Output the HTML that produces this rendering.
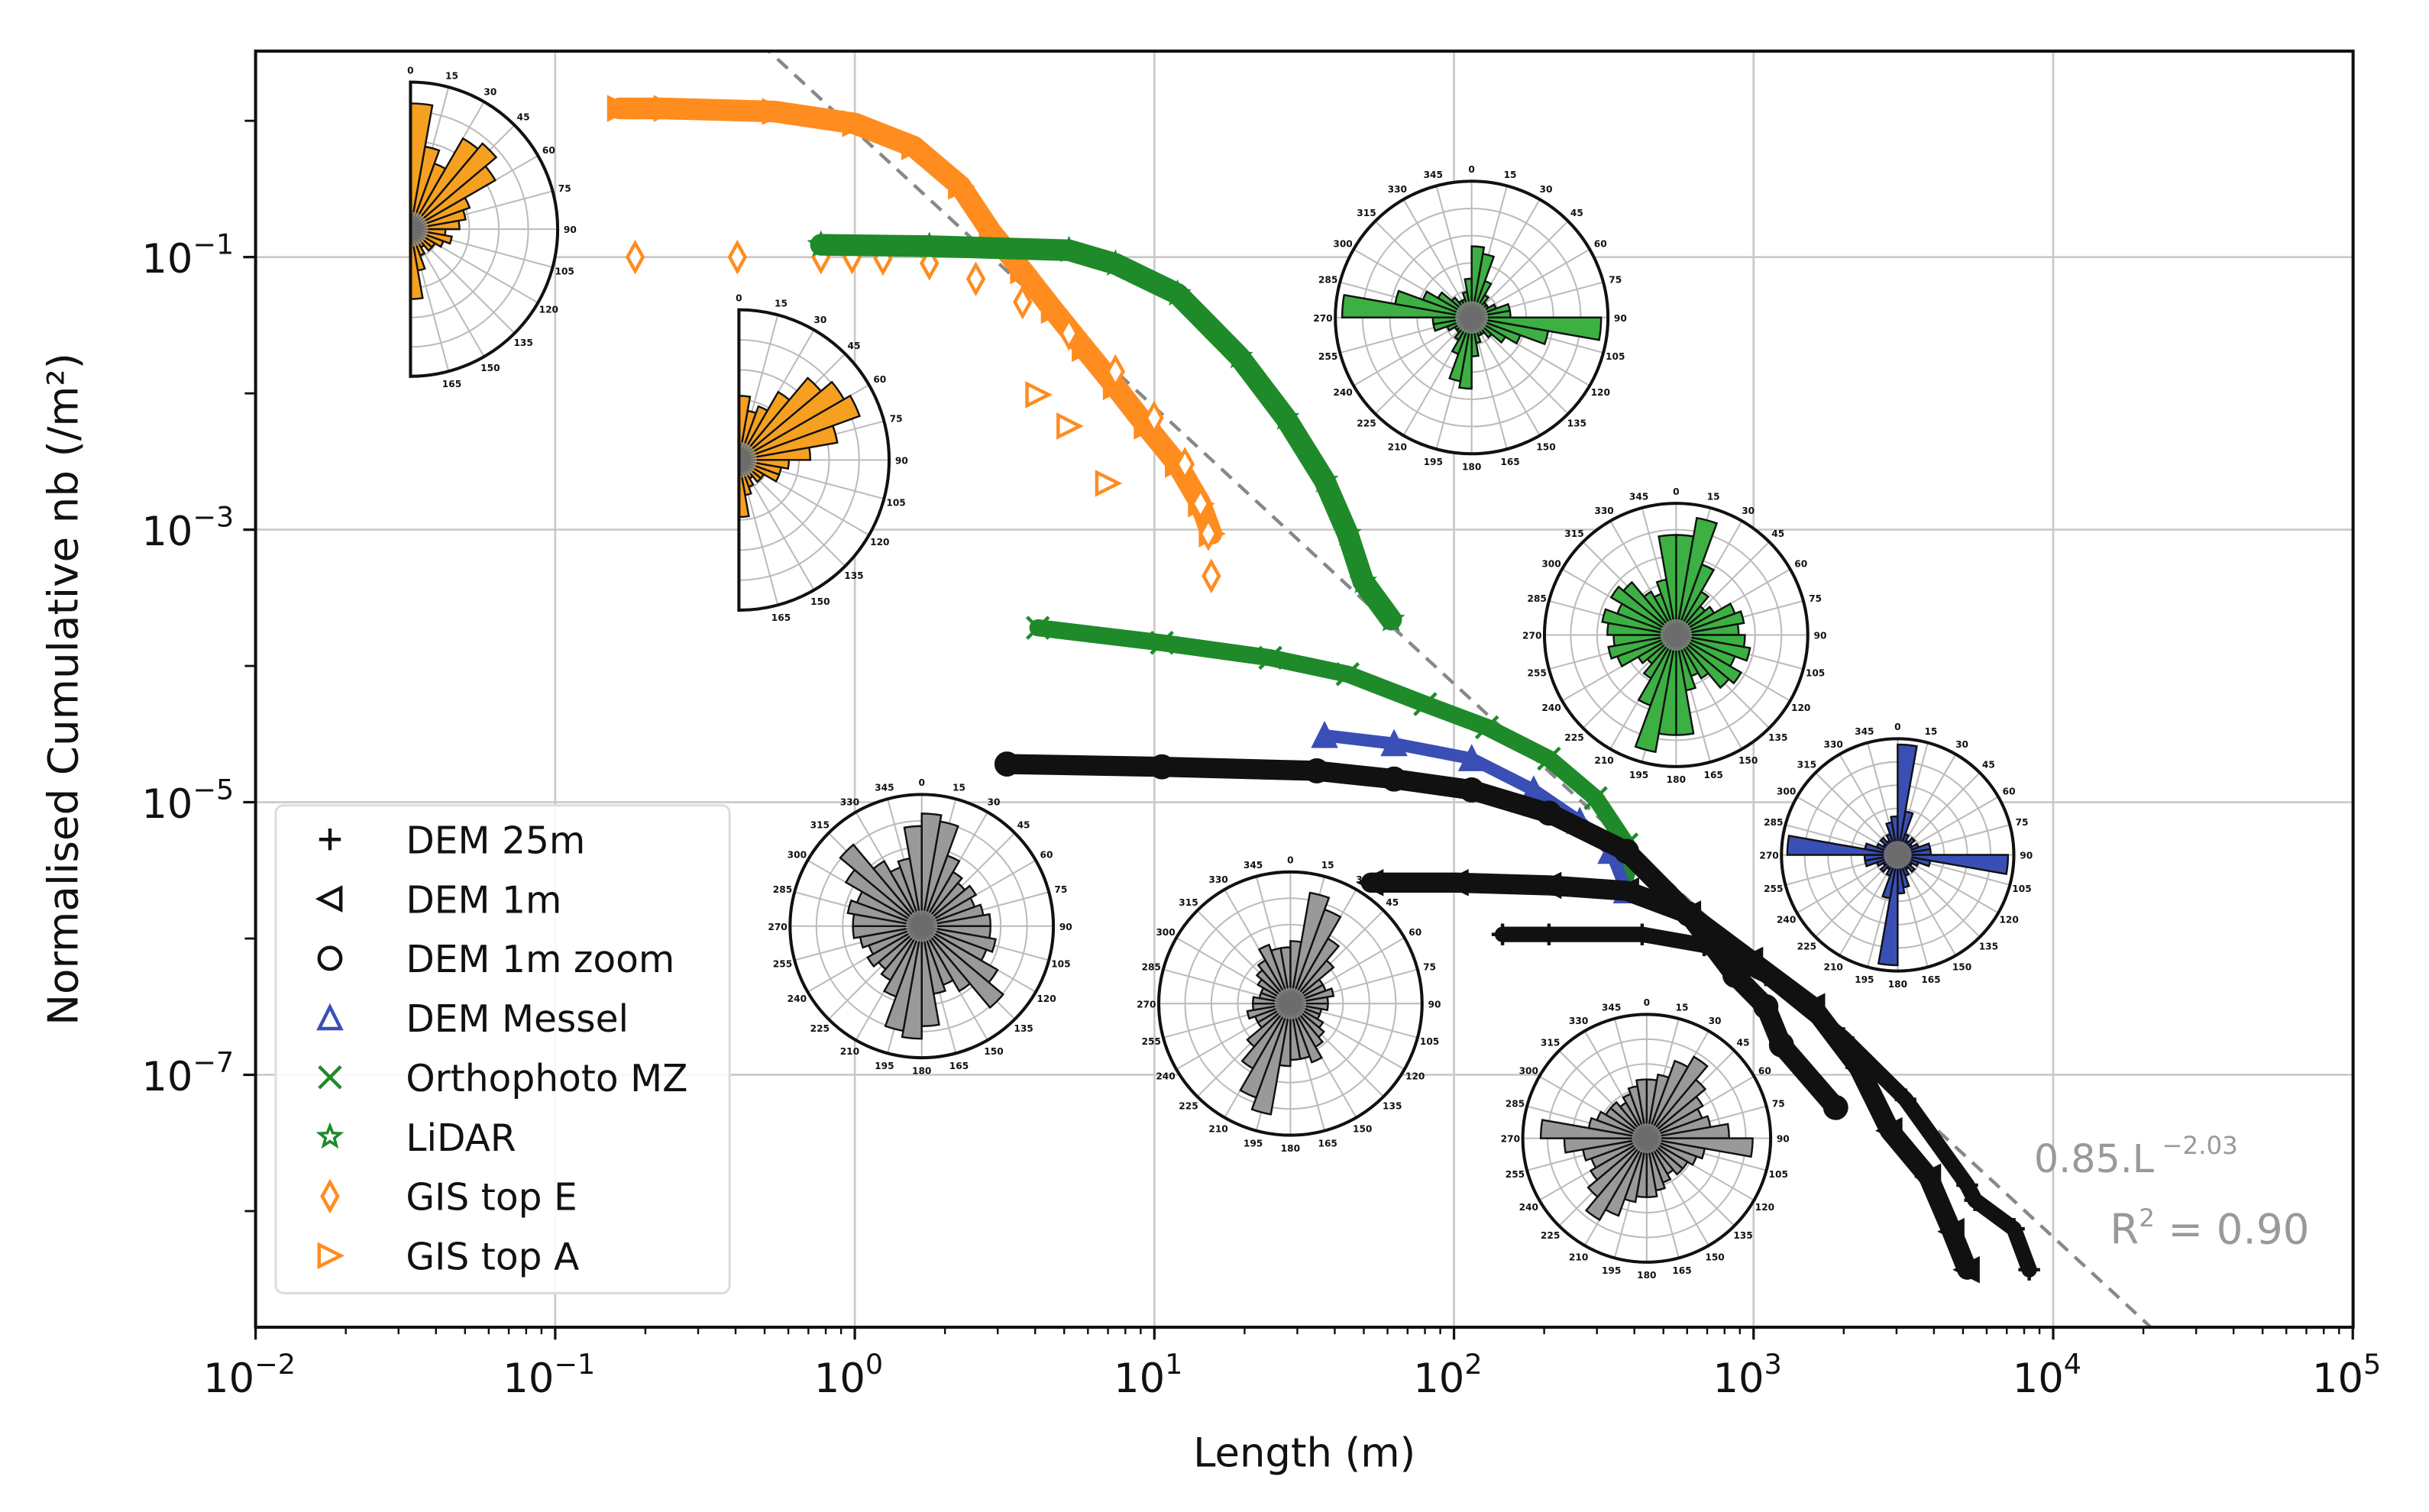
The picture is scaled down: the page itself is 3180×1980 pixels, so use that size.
<!DOCTYPE html>
<html><head><meta charset="utf-8"><style>
html,body{margin:0;padding:0;background:#fff}
svg{display:block}
text{font-family:"DejaVu Sans","Liberation Sans",sans-serif}
</style></head><body>
<svg id="chart" width="3180" height="1980" viewBox="0 0 1568 976.3" preserveAspectRatio="none" xmlns="http://www.w3.org/2000/svg">
<rect x="0" y="0" width="1568" height="977" fill="#fff"/>
<g id="grid"></g>
<g id="fit"></g>
<g id="series"></g>
<g id="roses"></g>
<g id="axes"></g>
<g id="legend"></g>
<text x="1313" y="757" font-size="25" fill="#999">0.85.L<tspan dy="-12" font-size="16"> −2.03</tspan></text>
<text x="1362" y="803" font-size="27" fill="#999">R<tspan dy="-11" font-size="16">2</tspan><tspan dy="11"> = 0.90</tspan></text>
<text x="842" y="947" font-size="26" text-anchor="middle" fill="#111">Length (m)</text>
<text transform="translate(50,445) rotate(-90)" font-size="27" text-anchor="middle" fill="#111">Normalised Cumulative nb (/m²)</text>
</svg>
<script>
// ---- data (log10 values) ----
const gisA_logL=[-0.785,-0.63,-0.268,0.0,0.197,0.353,0.456,0.56,0.663,0.766,0.87,0.973,1.077,1.154,1.19];
const gisA_logN=[0.091,0.09,0.068,-0.02,-0.19,-0.48,-0.82,-1.10,-1.39,-1.67,-1.95,-2.24,-2.52,-2.81,-3.03];
const gisAout_logL=[0.611,0.715,0.844];
const gisAout_logN=[-2.01,-2.24,-2.66];
const gisE_logL=[-0.733,-0.392,-0.113,-0.009,0.094,0.249,0.404,0.56,0.715,0.87,0.999,1.102,1.154,1.18,1.19];
const gisE_logN=[-1,-1,-1,-1,-1.01,-1.045,-1.16,-1.33,-1.56,-1.84,-2.18,-2.52,-2.81,-3.03,-3.34];
const lidar_logL=[-0.113,0.249,0.715,0.87,1.077,1.283,1.438,1.568,1.645,1.697,1.79];
const lidar_logN=[-0.91,-0.92,-0.95,-1.05,-1.27,-1.73,-2.18,-2.64,-3.03,-3.38,-3.66];
const ortho_logL=[0.611,1.025,1.387,1.645,1.904,2.11,2.317,2.473,2.576,2.576];
const ortho_logN=[-3.72,-3.83,-3.94,-4.06,-4.28,-4.45,-4.68,-4.97,-5.31,-5.53];
const messel_logL=[1.568,1.80,2.059,2.266,2.42,2.524,2.576];
const messel_logN=[-4.51,-4.57,-4.68,-4.91,-5.14,-5.36,-5.65];
const zoom_logL=[0.508,1.025,1.542,1.80,2.059,2.317,2.576,2.783,2.938,3.041,3.093,3.274];
const zoom_logN=[-4.72,-4.74,-4.77,-4.83,-4.91,-5.08,-5.36,-5.82,-6.27,-6.5,-6.78,-7.24];
const dem1_logL=[1.723,2.007,2.317,2.576,2.783,2.99,3.197,3.352,3.455,3.584,3.662,3.713];
const dem1_logN=[-5.59,-5.59,-5.61,-5.65,-5.82,-6.16,-6.5,-6.95,-7.41,-7.75,-8.15,-8.43];
const dem25_logL=[2.162,2.317,2.628,2.835,3.041,3.30,3.507,3.713,3.739,3.869,3.92];
const dem25_logN=[-5.97,-5.97,-5.97,-6.05,-6.27,-6.73,-7.18,-7.81,-7.92,-8.13,-8.43];
const fitCoef=0.85, fitExp=-2.03;
const xTickExps=[-2,-1,0,1,2,3,4,5];
const yTickExps=[-1,-3,-5,-7];
// rose petal lengths (0..1) for 10° bins 0-180, mirrored for full roses
const roseHalf1=[0.9,0.6,0.5,0.75,0.8,0.7,0.45,0.4,0.35,0.25,0.3,0.25,0.2,0.2,0.15,0.2,0.3,0.5];
const roseHalf2=[0.45,0.35,0.4,0.55,0.75,0.85,0.9,0.7,0.5,0.35,0.3,0.3,0.2,0.2,0.15,0.2,0.25,0.4];
const roseGreen1=[0.55,0.5,0.3,0.2,0.15,0.15,0.2,0.3,0.3,1.0,0.6,0.4,0.3,0.2,0.15,0.15,0.2,0.3];
const roseGreen2=[0.8,0.95,0.6,0.4,0.3,0.35,0.5,0.55,0.5,0.55,0.6,0.5,0.6,0.55,0.4,0.35,0.45,0.8];
const roseBlue=[1.0,0.4,0.2,0.15,0.2,0.15,0.2,0.3,0.3,1.0,0.3,0.2,0.15,0.2,0.15,0.2,0.3,0.35];
const roseGray1=[0.9,0.85,0.6,0.5,0.45,0.5,0.45,0.5,0.55,0.55,0.6,0.55,0.7,0.85,0.6,0.5,0.55,0.8];
const roseGray2=[0.5,0.9,0.8,0.6,0.45,0.3,0.3,0.35,0.3,0.3,0.25,0.25,0.3,0.35,0.4,0.5,0.45,0.45];
const roseGray3=[0.5,0.55,0.7,0.8,0.65,0.55,0.5,0.55,0.7,0.9,0.5,0.45,0.4,0.4,0.35,0.4,0.45,0.5];

const NS='http://www.w3.org/2000/svg';
const L=165,R=1519,T=33,B=857;
const xs=v=>L+(v+2)*193.4;
const ys=v=>166+(-1-v)*88;
function mk(tag,attrs,parent){const e=document.createElementNS(NS,tag);for(const k in attrs)e.setAttribute(k,attrs[k]);parent.appendChild(e);return e;}
const grid=document.getElementById('grid'),axes=document.getElementById('axes'),ser=document.getElementById('series'),roses=document.getElementById('roses'),leg=document.getElementById('legend'),fitG=document.getElementById('fit');

xTickExps.forEach(e=>{const x=xs(e);
  const g=mk('line',{x1:x,x2:x,y1:T,y2:B,stroke:'#c8c8c8','stroke-width':1.3},grid);
  
  
});
yTickExps.forEach(e=>{const y=ys(e);
  const g=mk('line',{x1:L,x2:R,y1:y,y2:y,stroke:'#c8c8c8','stroke-width':1.3},grid);
  
  
});

const defs=mk('defs',{},document.getElementById('chart'));
mk('rect',{x:L,y:T,width:R-L,height:B-T},mk('clipPath',{id:'plotclip'},defs));
{const x0=-0.6,x1=4.5;
 const fl=mk('line',{x1:xs(x0),y1:ys(Math.log10(fitCoef)+fitExp*x0),x2:xs(x1),y2:ys(Math.log10(fitCoef)+fitExp*x1),stroke:'#888','stroke-width':2.2,'stroke-dasharray':'9,6'},fitG);
 
 
 fitG.setAttribute('clip-path','url(#plotclip)');}

function marker(type,x,y,col,parent,fill){
  const s=7;let e;fill=fill||'#fff';
  if(type==='plus') e=mk('path',{d:`M${x-s} ${y}H${x+s}M${x} ${y-s}V${y+s}`,stroke:col,'stroke-width':2.2,fill:'none'},parent);
  else if(type==='x') e=mk('path',{d:`M${x-s} ${y-s}L${x+s} ${y+s}M${x-s} ${y+s}L${x+s} ${y-s}`,stroke:col,'stroke-width':2.2,fill:'none'},parent);
  else if(type==='tl') e=mk('path',{d:`M${x-s} ${y}L${x+s} ${y-s}L${x+s} ${y+s}Z`,stroke:col,'stroke-width':2.2,fill},parent);
  else if(type==='tr') e=mk('path',{d:`M${x+s} ${y}L${x-s} ${y-s}L${x-s} ${y+s}Z`,stroke:col,'stroke-width':2.2,fill},parent);
  else if(type==='tu') e=mk('path',{d:`M${x} ${y-s}L${x+s} ${y+s}L${x-s} ${y+s}Z`,stroke:col,'stroke-width':2.2,fill},parent);
  else if(type==='o') e=mk('circle',{cx:x,cy:y,r:s,stroke:col,'stroke-width':2.2,fill},parent);
  else if(type==='d') e=mk('path',{d:`M${x} ${y-s-2}L${x+s-2} ${y}L${x} ${y+s+2}L${x-s+2} ${y}Z`,stroke:col,'stroke-width':2.2,fill},parent);
  else if(type==='star'){let p='';for(let i=0;i<10;i++){const a=-Math.PI/2+i*Math.PI/5,r=i%2?3:7;p+=(i?'L':'M')+(x+r*Math.cos(a))+' '+(y+r*Math.sin(a));}
    e=mk('path',{d:p+'Z',stroke:col,'stroke-width':1.8,fill},parent);}
  return e;
}
function series(name,lx,ly,type,col,band){
  const g=mk('g',{},ser);
  
  
  if(band){const pts=lx.map((v,i)=>xs(v)+','+ys(ly[i])).join(' ');
    const pl=mk('polyline',{points:pts,fill:'none',stroke:col,'stroke-width':band,'stroke-linejoin':'round','stroke-linecap':'round'},g);
    
    }
  lx.forEach((v,i)=>{const m=marker(type,xs(v),ys(ly[i]),col,g,band?col:'#fff');
    
    });
}
const OR='#ff8c1f',GR='#1f8a2a',BL='#3a4fb5',BK='#111';
series('gis-top-a',gisA_logL,gisA_logN,'tr',OR,14);
series('gis-top-a-outliers',gisAout_logL,gisAout_logN,'tr',OR,0);
series('gis-top-e',gisE_logL,gisE_logN,'d',OR,0);
series('lidar',lidar_logL,lidar_logN,'star',GR,14);
series('orthophoto-mz',ortho_logL,ortho_logN,'x',GR,11);
series('dem-messel',messel_logL,messel_logN,'tu',BL,8);
series('dem-1m-zoom',zoom_logL,zoom_logN,'o',BK,13);
series('dem-1m',dem1_logL,dem1_logN,'tl',BK,13);
series('dem-25m',dem25_logL,dem25_logN,'plus',BK,10);

function rose(name,cx,cy,r,vals,col,half){
  const g=mk('g',{},roses);
  
  
  const P=(deg,rr)=>[cx+rr*Math.sin(deg*Math.PI/180),cy-rr*Math.cos(deg*Math.PI/180)];
  const span=half?180:360;
  const disc=(rr,attrs)=>half?mk('path',Object.assign({d:`M${cx} ${cy-rr}A${rr} ${rr} 0 0 1 ${cx} ${cy+rr}Z`},attrs),g):mk('circle',Object.assign({cx,cy,r:rr},attrs),g);
  disc(r,{fill:'#fff'});
  for(let k=1;k<=5;k++){const rr=r*k/5;
    if(half) mk('path',{d:`M${cx} ${cy-rr}A${rr} ${rr} 0 0 1 ${cx} ${cy+rr}`,fill:'none',stroke:'#bbb','stroke-width':1},g);
    else mk('circle',{cx,cy,r:rr,fill:'none',stroke:'#bbb','stroke-width':1},g);}
  for(let a=0;a<span;a+=15){const p=P(a,r);mk('line',{x1:cx,y1:cy,x2:p[0],y2:p[1],stroke:'#bbb','stroke-width':1},g);}
  const bins=half?vals:vals.concat(vals);
  bins.forEach((v,i)=>{const a0=i*10,a1=a0+10,rr=r*0.95*v;const p0=P(a0,rr),p1=P(a1,rr);
    const w=mk('path',{d:`M${cx} ${cy}L${p0[0]} ${p0[1]}A${rr} ${rr} 0 0 1 ${p1[0]} ${p1[1]}Z`,fill:col,stroke:'#111','stroke-width':1.2},g);
    
    });
  disc(r*0.12,{fill:'#aaa',opacity:0.6});
  disc(r,{fill:'none',stroke:'#111','stroke-width':2});
  for(let a=0;a<span;a+=15){const p=P(a,r+8);const t=mk('text',{x:p[0],y:p[1]+2.5,'font-size':6,'font-weight':'bold','text-anchor':'middle',fill:'#111'},g);t.textContent=a;}
}
rose('rose-gis-top-a',265,148,95,roseHalf1,'#f5a020',true);
rose('rose-gis-top-e',477,297,97,roseHalf2,'#f5a020',true);
rose('rose-lidar',950,205,88,roseGreen1,'#3cb043',false);
rose('rose-orthophoto',1082,410,85,roseGreen2,'#3cb043',false);
rose('rose-messel',1225,552,75,roseBlue,'#3a4fb5',false);
rose('rose-dem-zoom',595,598,85,roseGray1,'#999',false);
rose('rose-dem-1m',833,648,85,roseGray2,'#999',false);
rose('rose-dem-25m',1063,735,80,roseGray3,'#999',false);

mk('rect',{x:L,y:T,width:R-L,height:B-T,fill:'none',stroke:'#111','stroke-width':2},axes);
xTickExps.forEach(e=>{const x=xs(e);
  mk('line',{x1:x,x2:x,y1:B,y2:B+8,stroke:'#111','stroke-width':1.6},axes);
  const t=mk('text',{x:x-4,y:B+42,'font-size':26,'text-anchor':'middle',fill:'#111'},axes);
  
  
  t.innerHTML='10<tspan dy="-12" font-size="18">'+(e<0?'−'+(-e):e)+'</tspan>';
  if(e<5)for(let m=2;m<10;m++){const xm=xs(e+Math.log10(m));mk('line',{x1:xm,x2:xm,y1:B,y2:B+4.5,stroke:'#111','stroke-width':1.2},axes);}
});
for(let e=0;e>=-8;e--){const y=ys(e);mk('line',{x1:L-7,x2:L,y1:y,y2:y,stroke:'#111','stroke-width':1.4},axes);}
yTickExps.forEach(e=>{const y=ys(e);
  mk('line',{x1:L-8,x2:L,y1:y,y2:y,stroke:'#111','stroke-width':1.6},axes);
  const t=mk('text',{x:L-14,y:y+10,'font-size':26,'text-anchor':'end',fill:'#111'},axes);
  
  
  t.innerHTML='10<tspan dy="-12" font-size="18">−'+(-e)+'</tspan>';
});

const legNames=['DEM 25m','DEM 1m','DEM 1m zoom','DEM Messel','Orthophoto MZ','LiDAR','GIS top E','GIS top A'];
const legTypes=['plus','tl','o','tu','x','star','d','tr'];
const legCols=[BK,BK,BK,BL,GR,GR,OR,OR];
mk('rect',{x:178,y:520,width:293,height:315,rx:5,fill:'#fff','fill-opacity':0.85,stroke:'#ddd','stroke-width':1.5},leg);
legNames.forEach((n,i)=>{const y=542+i*38.4;
  const m=marker(legTypes[i],213,y,legCols[i],leg);
  
  
  const t=mk('text',{x:262,y:y+9,'font-size':24,fill:'#111'},leg);
  
  
  t.textContent=n;});
</script>
</body></html>
